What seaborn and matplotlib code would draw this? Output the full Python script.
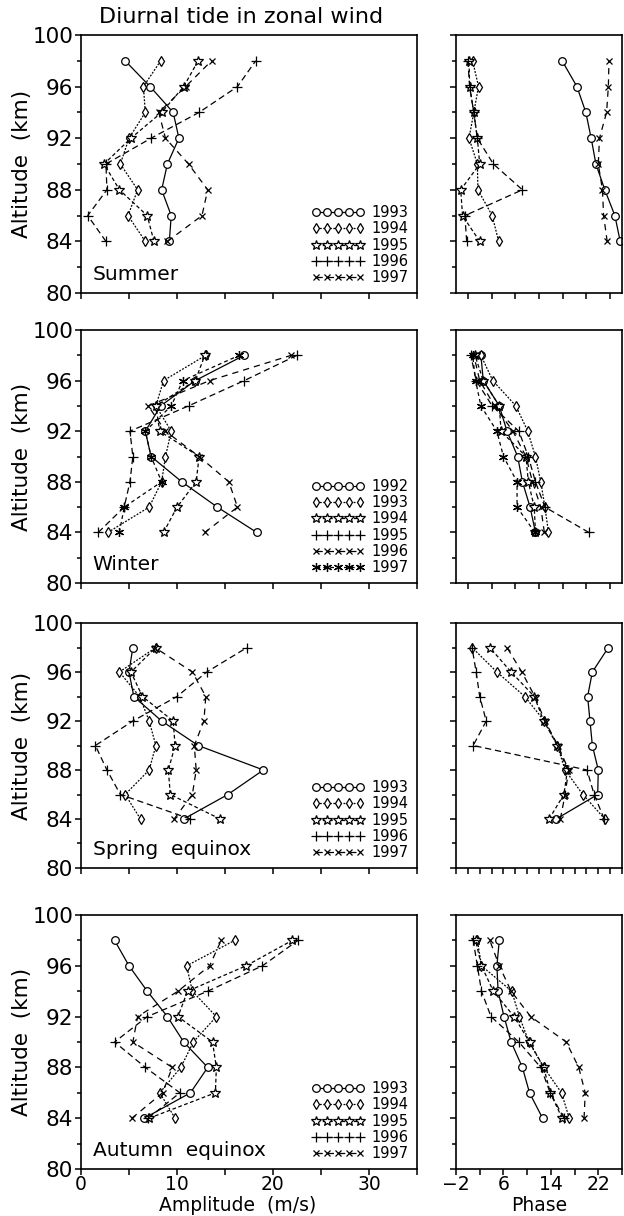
import numpy as np
import pandas as pd
import matplotlib
matplotlib.use('Agg')
import matplotlib.pyplot as plt
from matplotlib.ticker import MultipleLocator
import seaborn as sns

sns.set_style('ticks')
plt.rcParams['font.family'] = ['DejaVu Sans']
# plain black text and ticks, like the printed figure
for k in ('text.color', 'axes.labelcolor', 'xtick.color', 'ytick.color', 'axes.edgecolor'):
    plt.rcParams[k] = 'black'

# altitude levels (km), bottom to top
alt = [84, 86, 88, 90, 92, 94, 96, 98]

# --- Summer ---
summer_years = ['1993', '1994', '1995', '1996', '1997']
summer_amp = [[9.2, 9.4, 8.4, 9.0, 10.2, 9.6, 7.2, 4.6],
              [6.7, 4.9, 5.9, 4.1, 5.0, 6.7, 6.5, 8.3],
              [7.6, 6.9, 4.0, 2.4, 5.2, 8.4, 10.7, 12.2],
              [2.6, 0.7, 2.7, 2.6, 7.3, 12.3, 16.3, 18.2],
              [9.0, 12.6, 13.2, 11.2, 8.8, 8.1, 10.9, 13.6]]
summer_phase = [[25.7, 24.8, 23.1, 21.6, 20.8, 19.9, 18.4, 15.9],
                [5.2, 4.1, 1.7, 1.6, 0.2, 1.0, 1.8, 0.8],
                [2.0, -0.9, -1.2, 2.0, 1.6, 1.0, 0.3, 0.2],
                [-0.2, -0.5, 9.2, 4.3, 1.6, 1.0, 0.3, 0.0],
                [23.5, 22.9, 22.7, 22.0, 22.2, 23.4, 23.7, 23.8]]

# --- Winter ---
winter_years = ['1992', '1993', '1994', '1995', '1996', '1997']
winter_amp = [[18.3, 14.2, 10.5, 7.3, 6.7, 8.3, 11.9, 17.0],
              [2.8, 7.1, 8.4, 8.8, 9.4, 7.8, 8.6, 13.0],
              [8.6, 10.0, 12.0, 12.3, 8.2, 7.8, 11.9, 12.9],
              [1.8, 4.5, 5.1, 5.4, 5.1, 11.2, 17.0, 22.5],
              [12.9, 16.3, 15.4, 12.3, 8.8, 7.0, 13.4, 21.9],
              [4.0, 4.5, 8.4, 7.3, 6.7, 9.4, 10.6, 16.5]]
winter_phase = [[11.4, 10.5, 9.2, 8.4, 6.6, 5.3, 2.6, 2.2],
                [13.6, 13.0, 12.3, 11.4, 10.1, 8.1, 4.2, 2.2],
                [11.4, 11.2, 10.2, 9.8, 5.6, 5.3, 2.6, 1.2],
                [20.4, 13.0, 11.4, 10.2, 8.6, 4.1, 1.4, 0.5],
                [12.9, 12.3, 10.9, 9.8, 7.6, 4.5, 2.0, 1.0],
                [11.3, 8.3, 8.3, 6.0, 4.9, 2.2, 1.3, 0.8]]

# --- Spring equinox ---
spring_years = ['1993', '1994', '1995', '1996', '1997']
spring_amp = [[10.7, 15.3, 19.0, 12.2, 8.4, 5.5, 5.0, 5.4],
              [6.2, 4.6, 7.1, 7.8, 7.1, 6.1, 4.0, 7.8],
              [14.5, 9.3, 9.1, 9.8, 9.6, 6.4, 5.2, 7.8],
              [11.4, 4.1, 2.7, 1.5, 5.4, 10.0, 13.1, 17.3],
              [9.7, 11.6, 12.0, 11.8, 12.8, 13.0, 11.6, 7.7]]
spring_phase = [[14.9, 21.9, 22.0, 21.0, 20.6, 20.2, 21.0, 23.7],
                [23.1, 19.4, 16.4, 15.1, 12.9, 9.6, 4.9, 0.7],
                [13.7, 16.2, 16.8, 15.1, 12.8, 11.2, 7.3, 3.7],
                [23.0, 21.3, 20.1, 0.9, 3.1, 2.0, 1.4, 0.7],
                [15.6, 16.4, 17.0, 15.2, 13.0, 11.3, 9.1, 6.6]]

# --- Autumn equinox ---
autumn_years = ['1993', '1994', '1995', '1996', '1997']
autumn_amp = [[6.6, 11.4, 13.2, 10.7, 9.0, 6.9, 5.0, 3.5],
              [9.8, 8.2, 10.4, 11.7, 14.1, 11.6, 11.0, 16.0],
              [7.1, 14.0, 14.1, 13.7, 10.1, 11.1, 17.2, 22.0],
              [7.0, 10.3, 6.7, 3.5, 6.9, 13.2, 18.9, 22.6],
              [5.3, 8.5, 9.5, 5.4, 5.9, 10.1, 13.4, 14.6]]
autumn_phase = [[12.6, 10.4, 9.2, 7.3, 6.1, 5.1, 4.9, 5.3],
                [17.1, 15.8, 12.8, 10.3, 8.7, 7.4, 2.3, 1.6],
                [15.9, 13.9, 12.8, 10.4, 7.8, 4.3, 2.3, 1.3],
                [16.2, 13.9, 12.3, 8.6, 3.9, 2.3, 1.6, 0.9],
                [19.6, 19.8, 18.7, 16.6, 10.6, 7.3, 5.3, 3.7]]

seasons = [('Summer', summer_years, summer_amp, summer_phase),
           ('Winter', winter_years, winter_amp, winter_phase),
           ('Spring  equinox', spring_years, spring_amp, spring_phase),
           ('Autumn  equinox', autumn_years, autumn_amp, autumn_phase)]

# line/marker styles in legend order (first series is always circles)
styles_5 = [dict(marker='o', ls='-', ms=5.5, mfc='white'),
            dict(marker='d', ls=(0, (1.5, 1.2)), ms=5.5, mfc='white'),
            dict(marker='*', ls=(0, (3, 2)), ms=7, mfc='white'),
            dict(marker='+', ls=(0, (5, 3)), ms=7, mfc='none'),
            dict(marker='x', ls=(0, (5, 4)), ms=5, mfc='none')]
styles_6 = styles_5 + [dict(marker=(6, 2, 0), ls=(0, (3, 2.5)), ms=6.5, mfc='none')]

W, H = 624, 1216
fig = plt.figure(figsize=(W / 100, H / 100), dpi=100)

def box(l, r, t, b):
    return [l / W, 1 - b / H, (r - l) / W, (b - t) / H]

rows = [(35, 293), (330, 583), (623, 868), (915, 1169)]

for i, (name, years, amp, phase) in enumerate(seasons):
    top, bot = rows[i]
    axL = fig.add_axes(box(81, 417, top, bot))
    axR = fig.add_axes(box(456, 622, top, bot))

    df = pd.DataFrame({'year': np.repeat(years, len(alt)),
                       'alt': alt * len(years),
                       'amp': np.ravel(amp),
                       'phase': np.ravel(phase)})
    styles = styles_6 if len(years) == 6 else styles_5

    for y, st in zip(years, styles):
        d = df[df.year == y]
        for ax, col in ((axL, 'amp'), (axR, 'phase')):
            sns.lineplot(data=d, x=col, y='alt', ax=ax, sort=False, estimator=None,
                         color='black', lw=0.9, linestyle=st['ls'], marker=st['marker'],
                         markersize=st['ms'], markerfacecolor=st['mfc'],
                         markeredgecolor='black', markeredgewidth=0.9,
                         label=y if ax is axL else None)

    for ax in (axL, axR):
        ax.set_ylim(80, 100)
        ax.yaxis.set_major_locator(MultipleLocator(4))
        ax.yaxis.set_minor_locator(MultipleLocator(2))
        ax.tick_params(which='major', direction='out', length=4.5, width=1.1, pad=1)
        ax.tick_params(which='minor', direction='out', length=3, width=1.1)
        ax.tick_params(axis='x', which='major', length=4, pad=0.5)
        for s in ax.spines.values():
            s.set_linewidth(1.2)
            s.set_visible(True)
        ax.set_xlabel('')
        ax.set_ylabel('')

    axL.set_xlim(0, 35)
    axL.xaxis.set_major_locator(MultipleLocator(5))
    axL.set_yticks([80, 84, 88, 92, 96, 100])
    axL.set_yticklabels(['80', '84', '88', '92', '96', '100'], fontsize=15.5)
    axL.set_ylabel('Altitude  (km)', fontsize=15.5, labelpad=0)

    axR.set_xlim(-2, 26)
    axR.xaxis.set_major_locator(MultipleLocator(2 if i == 2 else 4))
    axR.set_yticklabels([])

    if i == 3:
        axL.set_xticks(np.arange(0, 36, 5))
        axL.set_xticklabels(['0', '', '10', '', '20', '', '30', ''], fontsize=13.5)
        axR.set_xticks(np.arange(-2, 27, 4))
        axR.set_xticklabels(['\u22122', '', '6', '', '14', '', '22', ''], fontsize=13.5)
        axL.set_xlabel('Amplitude  (m/s)', fontsize=13.5)
        axR.set_xlabel('Phase', fontsize=13.5)
        # bottom of the axis label sits on the bottom edge of the picture
        for ax, xc in ((axL, 0.465), (axR, 0.5)):
            ax.xaxis.label.set_va('bottom')
            ax.xaxis.set_label_coords(xc, -(H - 1 - bot) / (bot - top))
    else:
        axL.set_xticklabels([])
        axR.set_xticklabels([])

    axL.text(0.035, 0.035, name, transform=axL.transAxes, fontsize=14.5,
             ha='left', va='bottom')
    axL.legend(loc='lower right', bbox_to_anchor=(1.0, 0.0), borderaxespad=0.15,
               frameon=False, numpoints=5, handlelength=3.6, handletextpad=0.5,
               labelspacing=0.08, fontsize=10.5)

fig.text(241 / W, 1 - 17 / H, 'Diurnal tide in zonal wind', fontsize=16,
         ha='center', va='center')

fig.savefig('out.png', dpi=100)
